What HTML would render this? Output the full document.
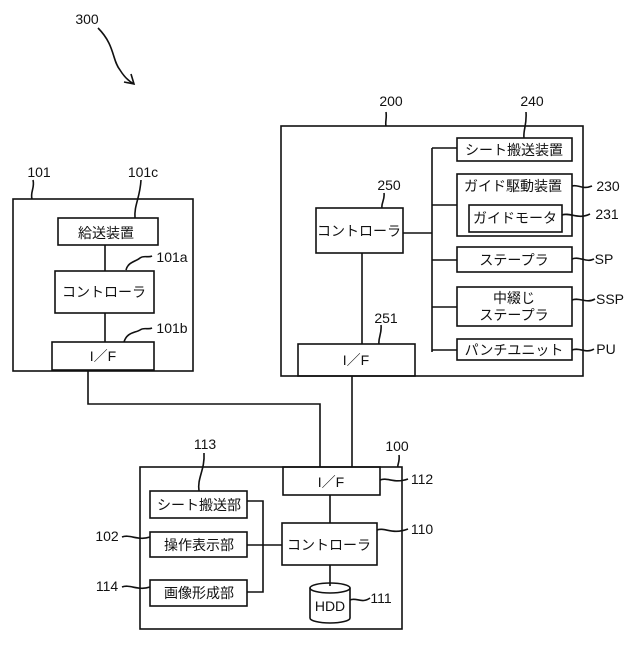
<!DOCTYPE html>
<html><head><meta charset="utf-8"><style>
html,body{margin:0;padding:0;background:#fff}
svg text{font-family:"Liberation Sans","Noto Sans CJK JP",sans-serif;fill:#111}
</style></head><body>
<svg width="640" height="640" viewBox="0 0 640 640" xmlns="http://www.w3.org/2000/svg">
<g fill="none" stroke="#111" stroke-width="1.6">
<path d="M98 28 C115 45 112 60 120 70 C125 78 130 82 134 84"/>
<path d="M124 82 L134 84 L131 74"/>
<rect x="13" y="199" width="180" height="172"/>
<rect x="58" y="218" width="100" height="27"/>
<rect x="55" y="271" width="99" height="42"/>
<rect x="52" y="342" width="102" height="28"/>
<path d="M105 245 V271 M105 313 V342"/>
<path d="M88 370 V404 H320 V467"/>
<path d="M33 180 C35 188 30 192 32 199"/>
<path d="M141 180 C140 198 134 205 135 218"/>
<path d="M126 270 C128 262 135 262 140 258 C144 255 148 258 152 256"/>
<path d="M124 342 C127 332 135 333 140 330 C144 327 148 330 152 328"/>
<rect x="281" y="126" width="302" height="250"/>
<rect x="316" y="208" width="87" height="45"/>
<rect x="298" y="344" width="117" height="32"/>
<path d="M362 253 V344"/>
<path d="M403 233 H432 M432 148 V352"/>
<path d="M432 148 H457 M432 205 H457 M432 260 H457 M432 307 H457 M432 350 H457"/>
<rect x="457" y="138" width="115" height="23"/>
<rect x="457" y="174" width="115" height="62"/>
<rect x="469" y="205" width="93" height="27"/>
<rect x="457" y="247" width="115" height="25"/>
<rect x="457" y="287" width="115" height="39"/>
<rect x="457" y="339" width="115" height="21"/>
<path d="M352 376 V467"/>
<path d="M386 112 C387 118 385 122 386 126"/>
<path d="M526 112 C527 125 523 130 524 138"/>
<path d="M381 325 C382 334 378 338 379 344"/>
<path d="M384 193 C385 200 381 203 382 208"/>
<path d="M572 186 C578 184 582 190 592 186"/>
<path d="M562 215 C570 212 578 220 590 214"/>
<path d="M572 259 C580 256 586 263 594 259"/>
<path d="M572 300 C580 297 586 304 595 299"/>
<path d="M572 350 C580 347 586 354 594 349"/>
<rect x="140" y="467" width="262" height="162"/>
<rect x="283" y="467" width="97" height="28"/>
<rect x="282" y="523" width="95" height="42"/>
<path d="M330 495 V523 M330 565 V586"/>
<path d="M310 588 V618 A20 5 0 0 0 350 618 V588"/>
<ellipse cx="330" cy="588" rx="20" ry="5"/>
<rect x="150" y="491" width="97" height="27"/>
<rect x="150" y="532" width="97" height="25"/>
<rect x="150" y="580" width="97" height="26"/>
<path d="M247 501 H263 V592 H247 M247 545 H282"/>
<path d="M204 453 C205 470 197 478 199 491"/>
<path d="M399 455 C400 462 397 465 398 467"/>
<path d="M380 480 C388 477 394 484 408 479"/>
<path d="M377 530 C385 527 392 535 408 529"/>
<path d="M350 600 C356 597 362 604 370 598"/>
<path d="M122 537 C130 534 138 541 150 537"/>
<path d="M122 587 C130 584 138 591 150 587"/>
</g>
<g font-size="14" text-anchor="middle">
<text x="87" y="24">300</text>
<text x="39" y="177">101</text>
<text x="143" y="177">101c</text>
<text x="106" y="238">給送装置</text>
<text x="104" y="297">コントローラ</text>
<text x="103" y="361">I／F</text>
<text x="172" y="262">101a</text>
<text x="172" y="333">101b</text>
<text x="391" y="106">200</text>
<text x="532" y="106">240</text>
<text x="389" y="190">250</text>
<text x="386" y="323">251</text>
<text x="359" y="236">コントローラ</text>
<text x="356" y="365">I／F</text>
<text x="514" y="155">シート搬送装置</text>
<text x="513" y="191">ガイド駆動装置</text>
<text x="515" y="223">ガイドモータ</text>
<text x="514" y="265">ステープラ</text>
<text x="514" y="303">中綴じ</text>
<text x="514" y="320">ステープラ</text>
<text x="514" y="355">パンチユニット</text>
<text x="608" y="191">230</text>
<text x="607" y="219">231</text>
<text x="604" y="264">SP</text>
<text x="610" y="304">SSP</text>
<text x="606" y="354">PU</text>
<text x="205" y="449">113</text>
<text x="397" y="451">100</text>
<text x="331" y="487">I／F</text>
<text x="422" y="484">112</text>
<text x="329" y="550">コントローラ</text>
<text x="422" y="534">110</text>
<text x="330" y="611">HDD</text>
<text x="381" y="603">111</text>
<text x="199" y="510">シート搬送部</text>
<text x="199" y="550">操作表示部</text>
<text x="199" y="598">画像形成部</text>
<text x="107" y="541">102</text>
<text x="107" y="591">114</text>
</g>
</svg>
</body></html>
